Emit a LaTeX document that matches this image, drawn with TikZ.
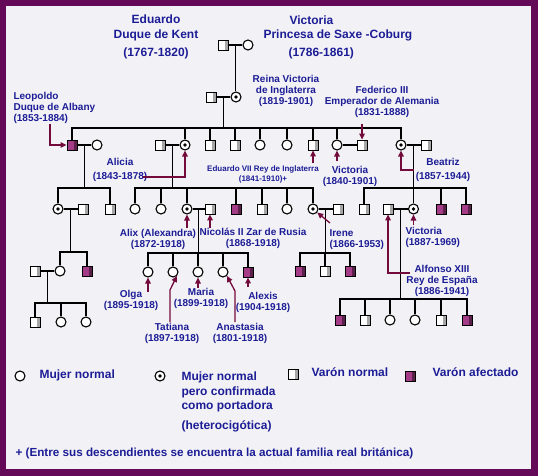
\documentclass[tikz,border=0pt]{standalone}
\usepackage{fontspec}
\setmainfont{Liberation Sans}
\usetikzlibrary{arrows.meta}

\definecolor{marco}{RGB}{100,8,88}
\definecolor{fondo}{RGB}{242,242,246}
\definecolor{azul}{RGB}{28,28,150}
\definecolor{flecha}{RGB}{115,10,60}
\definecolor{lila}{RGB}{165,60,135}

\begin{document}
\begin{tikzpicture}[x=1pt, y=-1pt, line width=1.1pt,
  mujer/.style={circle, draw, fill=white, minimum size=10pt, inner sep=0pt},
  portadora/.style={mujer, path picture={\fill[black] (path picture bounding box.center) circle (1.8pt);}},
  varon/.style={rectangle, draw, line width=0.8pt, fill=white, minimum size=10pt, inner sep=0pt,
    path picture={\fill[black!35] ([xshift=-3pt]path picture bounding box.north east) rectangle (path picture bounding box.south east);}},
  afectado/.style={varon, fill=lila,
    path picture={\fill[lila!55!black] ([xshift=-3pt]path picture bounding box.north east) rectangle (path picture bounding box.south east);}},
  texto/.style={text=azul, font=\bfseries\fontsize{10}{11}\selectfont, align=center, inner sep=0pt},
  titulo/.style={texto, font=\bfseries\fontsize{12}{15}\selectfont},
  chico/.style={texto, font=\bfseries\fontsize{8}{10}\selectfont},
  leyenda/.style={texto, font=\bfseries\fontsize{12}{14.5}\selectfont, align=left},
  flechita/.style={flecha, line width=1.3pt, -{Triangle[length=6pt,width=5.5pt]}}]

  % marco
  \fill[marco] (0,0) rectangle (538,476);
  \fill[fondo] (6,6) rectangle (531,469);

  \coordinate (fila1) at (0,128);
  \coordinate (fila2) at (0,188);
  \coordinate (fila3) at (0,252);
  \coordinate (fila3b) at (0,253);
  \coordinate (fila4) at (0,303);
  \coordinate (fila5) at (0,299);

  % generacion 0
  \node[varon] (kent) at (223,45) {};
  \node[mujer] (saxe) at (248,45) {};
  \node[titulo] (tkent) at (156,37) {Eduardo\\Duque de Kent\\[3pt](1767-1820)};
  \node[titulo, anchor=west] (tsaxe1) at (289,20) {Victoria};
  \node[titulo, anchor=west] (tsaxe2) at (263,35) {Princesa de Saxe -Coburg};
  \node[titulo, anchor=west] (tsaxe3) at (288,53) {(1786-1861)};

  % generacion 1
  \node[varon] (alberto) at (211,97) {};
  \node[portadora] (reina) at (236,97) {};
  \draw (kent) -- node[coordinate] (m0) {} (saxe);
  \draw (m0) -- (m0 |- reina.north);
  \draw (alberto) -- node[coordinate] (m1) {} (reina);
  \node[texto] (treina) at (286,91) {Reina Victoria\\de Inglaterra\\(1819-1901)};
  \node[texto] (tfed) at (382,102) {Federico III\\Emperador de Alemania\\(1831-1888)};

  % generacion 2
  \node[afectado] (leopoldo) at (72,145) {};
  \node[mujer] (helena) at (97,145) {};
  \node[varon] (luis) at (160,145) {};
  \node[portadora] (alicia) at (185,145) {};
  \node[varon] (h3) at (210,145) {};
  \node[varon] (h4) at (235,145) {};
  \node[mujer] (h5) at (260,145) {};
  \node[mujer] (h6) at (287,145) {};
  \node[varon] (eduardo7) at (313,145) {};
  \node[mujer] (victoria2) at (337,145) {};
  \node[varon] (federico) at (362,145) {};
  \node[portadora] (beatriz) at (401,145) {};
  \node[varon] (enrique) at (426,145) {};

  \draw (m1) -- (m1 |- fila1);
  \draw (leopoldo) |- (m1 |- fila1) -| (beatriz);
  \foreach \n in {alicia,h3,h4,h5,h6,eduardo7,victoria2}
    \draw (\n) -- (\n |- fila1);
  \draw (leopoldo) -- node[coordinate] (m2) {} (helena);
  \draw (luis) -- node[coordinate] (m5) {} (alicia);
  \draw (victoria2) -- (federico);
  \draw (beatriz) -- node[coordinate] (m8) {} (enrique);

  \node[texto, anchor=west, align=left] (tleo) at (13,108) {Leopoldo\\Duque de Albany\\(1853-1884)};
  \node[texto, font=\bfseries\fontsize{10}{14}\selectfont] (tali) at (120,170) {Alicia\\(1843-1878)};
  \node[chico] (ted7) at (263,174) {Eduardo VII Rey de Inglaterra\\(1841-1910)+};
  \node[texto] (tvic2) at (350,176) {Victoria\\(1840-1901)};
  \node[texto, font=\bfseries\fontsize{10}{14}\selectfont] (tbea) at (443,170) {Beatriz\\(1857-1944)};

  % generacion 3
  \node[portadora] (alice) at (58,209) {};
  \node[varon] (teck) at (83,209) {};
  \node[varon] (carlos) at (110,209) {};
  \draw (m2) -- (m2 |- fila2);
  \draw (alice) |- (m2 |- fila2) -| (carlos);
  \draw (alice) -- node[coordinate] (m3) {} (teck);

  \node[mujer] (a1) at (135,209) {};
  \node[mujer] (a2) at (161,209) {};
  \node[portadora] (alix) at (187,209) {};
  \node[varon] (nicolas) at (210,209) {};
  \node[afectado] (a4) at (236,209) {};
  \node[varon] (a5) at (262,209) {};
  \node[mujer] (a6) at (287,209) {};
  \node[portadora] (irene) at (313,209) {};
  \node[varon] (enriquepr) at (338,209) {};
  \draw (m5) -- (m5 |- fila2);
  \draw (a1) |- (m5 |- fila2) -| (irene);
  \foreach \n in {a2,alix,a4,a5,a6}
    \draw (\n) -- (\n |- fila2);
  \draw (alix) -- node[coordinate] (m6) {} (nicolas);
  \draw (irene) -- node[coordinate] (m7) {} (enriquepr);

  \node[varon] (b1) at (364,209) {};
  \node[varon] (alfonso) at (388,209) {};
  \node[portadora] (victoria3) at (413.5,209) {};
  \node[afectado] (b3) at (441,209) {};
  \node[afectado] (b4) at (466,209) {};
  \draw (m8) -- (m8 |- fila2);
  \draw (b1) |- (m8 |- fila2) -| (b4);
  \foreach \n in {victoria3,b3}
    \draw (\n) -- (\n |- fila2);
  \draw (alfonso) -- node[coordinate] (m9) {} (victoria3);

  \node[texto] (talix) at (158,239.5) {Alix (Alexandra)\\(1872-1918)};
  \node[texto] (tnic) at (253,238.5) {Nicolás II Zar de Rusia\\(1868-1918)};
  \node[texto, anchor=west, align=left] (tirene) at (329,239.5) {Irene\\(1866-1953)};
  \node[texto, anchor=west, align=left] (tvic3) at (405,237.5) {Victoria\\(1887-1969)};
  \node[texto] (talf) at (442,281) {Alfonso XIII\\Rey de España\\(1886-1941)};

  % generacion 4
  \node[mujer] (may) at (60,271) {};
  \node[afectado] (ruperto) at (87,271) {};
  \node[varon] (esposo) at (35,271) {};
  \draw (m3) -- (m3 |- fila3);
  \draw (may) |- (m3 |- fila3) -| (ruperto);
  \draw (esposo) -- node[coordinate] (m4) {} (may);

  \node[mujer] (olga) at (148,272) {};
  \node[mujer] (tatiana) at (173,272) {};
  \node[mujer] (maria) at (198,272) {};
  \node[mujer] (anastasia) at (223,272) {};
  \node[afectado] (alexis) at (248,272) {};
  \draw (m6) -- (m6 |- fila3b);
  \draw (olga) |- (m6 |- fila3b) -| (alexis);
  \foreach \n in {tatiana,maria,anastasia}
    \draw (\n) -- (\n |- fila3b);

  \node[afectado] (i1) at (300,271) {};
  \node[varon] (i2) at (325,271) {};
  \node[afectado] (i3) at (350,271) {};
  \draw (m7) -- (m7 |- fila3b);
  \draw (i1) |- (m7 |- fila3b) -| (i3);
  \draw (i2) -- (i2 |- fila3b);

  \node[texto] (tolga) at (131,300) {Olga\\(1895-1918)};
  \node[texto] (ttat) at (172,333) {Tatiana\\(1897-1918)};
  \node[texto] (tmar) at (201,298) {Maria\\(1899-1918)};
  \node[texto] (tana) at (240,333) {Anastasia\\(1801-1918)};
  \node[texto] (talex) at (263,302.5) {Alexis\\(1904-1918)};

  % generacion 5
  \node[varon] (n1) at (35,322) {};
  \node[mujer] (n2) at (61,322) {};
  \node[mujer] (n3) at (86,322) {};
  \draw (m4) -- (m4 |- fila4);
  \draw (n1) |- (m4 |- fila4) -| (n3);
  \draw (n2) -- (n2 |- fila4);

  \node[afectado] (e1) at (340,320) {};
  \node[varon] (e2) at (365,320) {};
  \node[mujer] (e3) at (390,320) {};
  \node[mujer] (e4) at (415,320) {};
  \node[varon] (e5) at (441,320) {};
  \node[afectado] (e6) at (467,320) {};
  \draw (m9) -- (m9 |- fila5);
  \draw (e1) |- (m9 |- fila5) -| (e6);
  \foreach \n in {e2,e3,e4,e5}
    \draw (\n) -- (\n |- fila5);

  % flechas
  \coordinate (cleo) at (50,124);
  \coordinate (cali) at (143,177);
  \coordinate (ced7) at (313,163);
  \coordinate (cvic2) at (337,161);
  \coordinate (cfed) at (362,124);
  \coordinate (cbea) at (413.5,170);
  \coordinate (calix) at (187,228);
  \coordinate (cnic) at (210,228);
  \coordinate (cirene) at (330,223);
  \coordinate (cvic3) at (413.5,225);
  \coordinate (calf) at (410,273);
  \coordinate (colga) at (148,292);
  \coordinate (ctat) at (170,322);
  \coordinate (ctat2) at (170,290);
  \coordinate (cmar) at (198,288);
  \coordinate (cana) at (235,322);
  \coordinate (cana2) at (235,291);
  \coordinate (calex) at (248,287);
  \draw[flechita] (cleo) |- (leopoldo);
  \draw[flechita] (cali) -| (alicia);
  \draw[flechita] (ced7) -- (eduardo7);
  \draw[flechita] (cvic2) -- (victoria2);
  \draw[flechita] (cfed) -- (federico);
  \draw[flechita] (cbea) -| (beatriz);
  \draw[flechita] (calix) -- (alix);
  \draw[flechita] (cnic) -- (nicolas);
  \draw[flechita] (cirene) -- (irene);
  \draw[flechita] (cvic3) -- (victoria3);
  \draw[flechita] (calf) -| (alfonso);
  \draw[flechita] (colga) -- (olga);
  \draw[flechita] (ctat) -- (ctat2) -- (tatiana.south east);
  \draw[flechita] (cmar) -- (maria);
  \draw[flechita] (cana) -- (cana2) -- (anastasia.south east);
  \draw[flechita] (calex) -- (alexis);

  % leyenda
  \node[mujer] (lmujer) at (20,376) {};
  \node[leyenda, anchor=west] (tmujer) at (39,375) {Mujer normal};
  \node[portadora] (lport) at (160,376) {};
  \node[leyenda, anchor=north west] (tport) at (181,371.5) {Mujer normal\\pero confirmada\\como portadora\\[5.5pt](heterocigótica)};
  \node[varon] (lvaron) at (293,374) {};
  \node[leyenda, anchor=west] (tvaron) at (311,372) {Varón normal};
  \node[afectado] (lafect) at (410,376) {};
  \node[leyenda, anchor=west] (tafect) at (432,372) {Varón afectado};
  \node[leyenda, anchor=west, font=\bfseries\fontsize{11.7}{14}\selectfont] (tnota) at (15,453) {+ (Entre sus descendientes se encuentra la actual familia real británica)};
\end{tikzpicture}
\end{document}
